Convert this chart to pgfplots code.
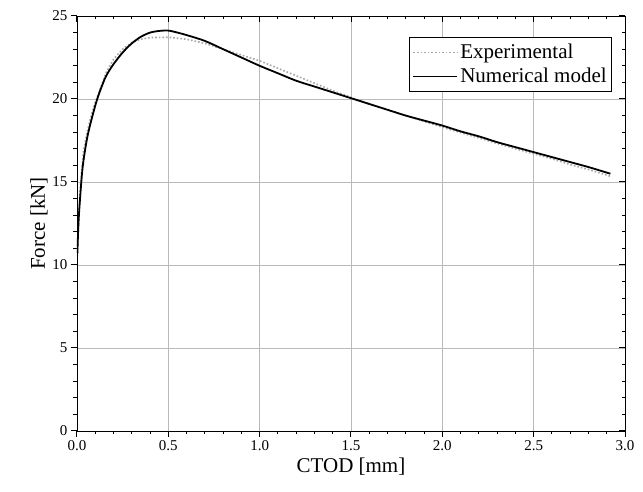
\documentclass[border=0pt]{standalone}
\usepackage{fontspec}
\setmainfont{Liberation Serif}
\usepackage{pgfplots}
\pgfplotsset{compat=1.18}
\begin{document}
\begin{tikzpicture}
\begin{axis}[
  scale only axis,
  width=548pt, height=415pt,
  xmin=0, xmax=3, ymin=0, ymax=25,
  xtick distance=0.5, ytick distance=5,
  minor x tick num=4, minor y tick num=4,
  xtick pos=bottom, ytick pos=left,
  tick align=outside,
  major tick length=6pt, minor tick length=3.5pt,
  tick style={black, line width=1pt},
  xticklabel style={/pgf/number format/.cd,fixed,fixed zerofill,precision=1},
  /pgf/number format/assume math mode=true,
  ticklabel style={font=\fontsize{15}{17}\selectfont},
  label style={font=\fontsize{21}{24}\selectfont},
  xlabel={CTOD [mm]}, ylabel={Force [kN]},
  grid=major,
  major grid style={gray!55, line width=0.8pt},
  ylabel style={yshift=-2pt},
  legend style={at={(1,1)}, anchor=north east, xshift=-13pt, yshift=-21pt,
    font=\fontsize{21}{24}\selectfont, draw=black, line width=0.6pt,
    inner xsep=3pt, inner ysep=5pt, row sep=4pt, cells={anchor=west}},
  legend cell align=left,
  legend image code/.code={\draw[#1] (0pt,0pt) -- (44pt,0pt);},
]
\addplot[gray!70, line width=1.6pt, dotted] coordinates {
(0.002,10.5)(0.01,13)(0.02,15)(0.035,16.8)(0.055,18)(0.08,19.1)(0.1,19.8)
(0.13,20.7)(0.16,21.6)(0.2,22.4)(0.25,23.0)(0.3,23.4)(0.35,23.6)(0.4,23.7)
(0.5,23.72)(0.6,23.6)(0.7,23.35)(0.8,23.0)(0.9,22.65)(1.0,22.3)(1.1,21.85)
(1.2,21.4)(1.3,20.95)(1.4,20.5)(1.5,20.1)(1.6,19.7)(1.7,19.35)(1.8,19.0)
(1.9,18.65)(2.0,18.3)(2.2,17.65)(2.4,17.0)(2.5,16.7)(2.6,16.4)(2.7,16.05)
(2.8,15.75)(2.92,15.35)
};
\addlegendentry{Experimental}
\addplot[black, line width=1.8pt, smooth] coordinates {
(0.002,10.7)(0.008,12.5)(0.016,13.9)(0.031,15.9)(0.053,17.5)(0.071,18.4)
(0.09,19.2)(0.108,19.9)(0.13,20.6)(0.16,21.4)(0.2,22.1)(0.25,22.8)(0.3,23.35)
(0.35,23.75)(0.4,24.0)(0.45,24.1)(0.5,24.12)(0.55,24.0)(0.6,23.85)(0.7,23.5)
(0.8,23.0)(0.9,22.5)(1.0,22.0)(1.1,21.55)(1.2,21.1)(1.3,20.75)(1.4,20.4)
(1.5,20.05)(1.6,19.7)(1.7,19.35)(1.8,19.0)(1.9,18.7)(2.0,18.4)(2.1,18.05)
(2.2,17.75)(2.3,17.4)(2.4,17.1)(2.5,16.8)(2.6,16.5)(2.7,16.2)(2.8,15.9)
(2.92,15.5)
};
\addlegendentry{Numerical model}
\end{axis}
\begin{axis}[
  scale only axis,
  width=548pt, height=415pt,
  xmin=0, xmax=3, ymin=0, ymax=25,
  xtick distance=0.5, ytick distance=5,
  minor x tick num=4, minor y tick num=4,
  xtick pos=top, ytick pos=right,
  tick align=inside,
  major tick length=6pt, minor tick length=3.5pt,
  tick style={black, line width=1pt},
  xticklabels={}, yticklabels={},
]
\end{axis}
\path (-77pt,-61pt) rectangle (566pt,431pt);
\end{tikzpicture}
\end{document}
